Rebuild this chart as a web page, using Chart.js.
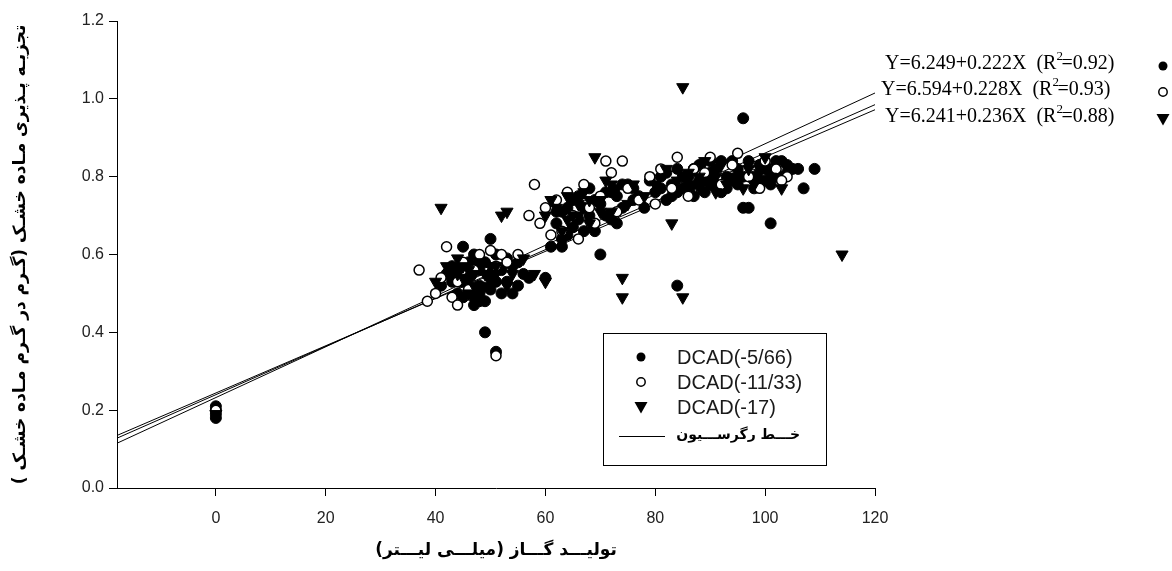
<!DOCTYPE html>
<html>
<head>
<meta charset="utf-8">
<script src="https://cdn.jsdelivr.net/npm/chart.js@4.4.0/dist/chart.umd.min.js"></script>
<style>
  html, body { margin: 0; padding: 0; background: #fff; }
  #wrap { width: 1172px; height: 571px; }
</style>
</head>
<body>
<div id="wrap"><canvas id="c" width="1172" height="571"></canvas></div>
<script>
/* ── data ─────────────────────────────── */
const xTicks = [0, 20, 40, 60, 80, 100, 120];
const yTicks = [0, 0.2, 0.4, 0.6, 0.8, 1.0, 1.2];

const seriesNames = ['DCAD(-5/66)', 'DCAD(-11/33)', 'DCAD(-17)'];
const equations = [
  ['Y=6.249+0.222X  (R', '=0.92)'],
  ['Y=6.594+0.228X  (R', '=0.93)'],
  ['Y=6.241+0.236X  (R', '=0.88)']
];

// DCAD(-5/66) – filled circles
const filledPts = [
  [0,0.18],[0,0.19],[0,0.2],[0,0.21],
  [41,0.52],[42,0.55],[43,0.57],[44,0.5],[45,0.53],[46,0.58],[47,0.49],[48,0.52],[48,0.56],
  [49,0.48],[50,0.55],[51,0.6],[52,0.5],[53,0.53],[54,0.57],[55,0.52],[56,0.55],[57,0.54],
  [60,0.54],[49,0.40],[51,0.35],[45,0.62],[47,0.6],[50,0.64],
  [43,0.53],[44,0.56],[46,0.54],[47,0.57],[48,0.5],[49,0.58],[50,0.51],[52,0.56],[53,0.59],
  [45,0.49],[47,0.47],[48,0.48],[51,0.53],[55,0.58],[54,0.5],
  [61,0.62],[62,0.68],[63,0.71],[64,0.65],[65,0.74],[66,0.69],[67,0.72],[68,0.77],[69,0.66],
  [70,0.73],[71,0.7],[72,0.76],[73,0.68],[74,0.72],[75,0.78],[76,0.74],[78,0.72],[79,0.79],
  [62,0.71],[63,0.64],[64,0.72],[65,0.67],[66,0.75],[67,0.66],[68,0.7],[69,0.74],[71,0.76],
  [72,0.69],[73,0.75],[74,0.78],[76,0.77],[77,0.75],[63,0.62],
  [80,0.76],[81,0.8],[82,0.74],[83,0.78],[84,0.82],[85,0.77],[86,0.8],[87,0.75],[88,0.83],
  [89,0.79],[90,0.78],[91,0.82],[92,0.76],[93,0.8],[94,0.84],[95,0.78],[96,0.72],[97,0.72],
  [98,0.8],[99,0.83],[100,0.79],[101,0.82],[102,0.8],[103,0.84],[104,0.81],[105,0.82],
  [81,0.77],[82,0.81],[83,0.75],[85,0.8],[86,0.77],[87,0.82],[88,0.79],[89,0.76],[90,0.81],
  [91,0.78],[92,0.84],[93,0.77],[94,0.79],[95,0.82],[96,0.8],[97,0.84],[98,0.77],[99,0.79],
  [100,0.82],[101,0.78],[102,0.84],[103,0.8],[104,0.83],[106,0.82],[84,0.76],[90,0.84],
  [96,0.95],[101,0.68],[107,0.77],[109,0.82],[84,0.52],[70,0.6]
];
// DCAD(-11/33) – open circles
const openPts = [
  [0,0.2],
  [37,0.56],[38.5,0.48],[42,0.62],[40,0.5],[41,0.54],[43,0.49],[44,0.53],[45,0.58],[46,0.51],
  [47,0.56],[48,0.6],[50,0.61],[51,0.57],[52,0.6],[53,0.58],[55,0.6],[51,0.34],[44,0.47],
  [57,0.7],[58,0.78],[59,0.68],[60,0.72],[61,0.65],[62,0.74],[63,0.66],[64,0.76],[65,0.7],
  [66,0.64],[67,0.78],[68,0.72],[69,0.68],[70,0.75],[71,0.84],[74,0.84],[72,0.81],[73,0.71],
  [75,0.77],[77,0.74],[79,0.8],
  [80,0.73],[81,0.82],[83,0.77],[84,0.85],[86,0.75],[87,0.82],[89,0.81],[90,0.85],[92,0.78],
  [94,0.83],[95,0.86],[97,0.8],[99,0.77],[100,0.84],[102,0.82],[104,0.8],[103,0.79]
];
// DCAD(-17) – filled down triangles
const triPts = [
  [0,0.19],
  [41,0.72],[40,0.53],[42,0.57],[43,0.55],[44,0.59],[45,0.54],[46,0.56],[47,0.52],[48,0.58],
  [49,0.55],[50,0.53],[51,0.57],[52,0.7],[53,0.71],[53,0.52],[54,0.55],[56,0.59],[58,0.55],
  [60,0.53],[46,0.5],[44,0.55],[45,0.57],[47,0.55],[49,0.52],[50,0.57],[51,0.55],
  [60,0.7],[62,0.72],[63,0.66],[64,0.75],[65,0.7],[66,0.73],[67,0.76],[68,0.68],[69,0.85],
  [70,0.74],[71,0.79],[72,0.71],[73,0.77],[74,0.54],[74,0.49],[75,0.73],[76,0.78],[78,0.75],
  [61,0.74],[64,0.69],[66,0.7],[68,0.74],[70,0.71],[72,0.78],
  [80,0.78],[82,0.82],[83,0.68],[84,0.79],[85,1.03],[85,0.49],[86,0.81],[87,0.78],[88,0.77],
  [89,0.84],[90,0.79],[91,0.76],[92,0.83],[93,0.78],[94,0.8],[96,0.77],[97,0.82],[98,0.78],
  [100,0.85],[101,0.8],[103,0.77],[114,0.6],[88,0.8],[91,0.8],[95,0.8],[99,0.81],[86,0.78]
];

// regression lines, end values at x = -18 and x = 120
const regX  = [-18, 120];
const regY1 = [0.128, 0.985];
const regY2 = [0.135, 0.972];
const regY3 = [0.115, 1.015];

const toXY = arr => arr.map(p => ({ x: p[0], y: p[1] }));
const lineXY = ys => regX.map((x, i) => ({ x, y: ys[i] }));

/* ── marker drawing helper ─────────────── */
function drawMarker(ctx, kind, x, y) {
  ctx.save();
  ctx.lineWidth = 1.5;
  ctx.strokeStyle = '#000';
  ctx.fillStyle = '#000';
  if (kind === 0) {
    ctx.beginPath(); ctx.arc(x, y, 4.5, 0, Math.PI * 2); ctx.fill();
  } else if (kind === 1) {
    ctx.fillStyle = '#fff';
    ctx.beginPath(); ctx.arc(x, y, 4.2, 0, Math.PI * 2); ctx.fill(); ctx.stroke();
  } else {
    ctx.beginPath();
    ctx.moveTo(x - 6.5, y - 5); ctx.lineTo(x + 6.5, y - 5); ctx.lineTo(x, y + 6.5);
    ctx.closePath(); ctx.fill();
  }
  ctx.restore();
}

/* ── legend box + equations ────────────── */
const annotations = {
  id: 'annotations',
  afterDraw(chart) {
    const ctx = chart.ctx;
    ctx.save();
    // x axis line runs a little past the y axis, as in the source figure
    const xa = chart.scales.x;
    ctx.beginPath();
    ctx.moveTo(109, xa.top + 0.5); ctx.lineTo(chart.chartArea.left, xa.top + 0.5);
    ctx.strokeStyle = '#000'; ctx.lineWidth = 1; ctx.stroke();

    // legend box
    ctx.strokeRect(603.5, 333.5, 223, 132);
    const rows = [357, 382, 407];
    ctx.font = '20px "Liberation Sans", Arial, sans-serif';
    ctx.textBaseline = 'middle';
    ctx.textAlign = 'left';
    rows.forEach((ry, i) => {
      drawMarker(ctx, i, 641, ry);
      ctx.fillStyle = '#1a1a1a';
      ctx.fillText(seriesNames[i], 677, ry + 1);
    });
    ctx.beginPath();
    ctx.moveTo(619, 436.5); ctx.lineTo(665, 436.5);
    ctx.strokeStyle = '#000'; ctx.lineWidth = 1; ctx.stroke();
    ctx.font = 'bold 14px "DejaVu Sans", sans-serif';
    ctx.textAlign = 'right';
    ctx.fillStyle = '#000';
    ctx.fillText('خـــط رگرســـیون', 800, 435);

    // regression equations at the right
    const eqRows = [64, 90, 117];
    const eqX = [885, 881, 885];
    ctx.textAlign = 'left';
    eqRows.forEach((ry, i) => {
      ctx.font = '20px "Liberation Serif", "Times New Roman", serif';
      ctx.fillStyle = '#000';
      const a = equations[i][0];
      ctx.fillText(a, eqX[i], ry);
      const w = ctx.measureText(a).width;
      ctx.font = '13px "Liberation Serif", serif';
      ctx.fillText('2', eqX[i] + w, ry - 7);
      ctx.font = '20px "Liberation Serif", "Times New Roman", serif';
      ctx.fillText(equations[i][1], eqX[i] + w + 5, ry);
      drawMarker(ctx, i, 1163, ry + 2);
    });
    ctx.restore();
  }
};

const pointStyleBase = { showLine: false, borderColor: '#000' };

new Chart(document.getElementById('c'), {
  type: 'scatter',
  data: {
    datasets: [
      { label: 'reg1', type: 'line', data: lineXY(regY1), borderColor: '#000', borderWidth: 1,
        pointRadius: 0, fill: false, order: 5 },
      { label: 'reg2', type: 'line', data: lineXY(regY2), borderColor: '#000', borderWidth: 1,
        pointRadius: 0, fill: false, order: 5 },
      { label: 'reg3', type: 'line', data: lineXY(regY3), borderColor: '#000', borderWidth: 1,
        pointRadius: 0, fill: false, order: 5 },
      Object.assign({ label: seriesNames[0], data: toXY(filledPts), pointStyle: 'circle',
        pointRadius: 5.5, backgroundColor: '#000', borderWidth: 1, order: 3 }, pointStyleBase),
      Object.assign({ label: seriesNames[1], data: toXY(openPts), pointStyle: 'circle',
        pointRadius: 5, backgroundColor: '#fff', borderWidth: 1.5, order: 2 }, pointStyleBase),
      Object.assign({ label: seriesNames[2], data: toXY(triPts), pointStyle: 'triangle',
        rotation: 180, pointRadius: 7, backgroundColor: '#000', borderWidth: 1, order: 1 }, pointStyleBase)
    ]
  },
  options: {
    responsive: false,
    animation: false,
    events: [],
    layout: { padding: { left: 0, right: 297, top: 21, bottom: 0 } },
    plugins: { legend: { display: false }, tooltip: { enabled: false } },
    scales: {
      x: {
        type: 'linear', min: -18, max: 120,
        afterBuildTicks: s => { s.ticks = xTicks.map(v => ({ value: v })); },
        afterFit: s => { s.height = 83; },
        grid: { drawOnChartArea: false, drawTicks: true, tickLength: 8, color: '#000' },
        border: { display: true, color: '#000', width: 1 },
        ticks: { color: '#222', padding: 13, font: { family: '"Liberation Sans", Arial', size: 16 } },
        title: { display: true, text: 'تولیـــد گـــاز (میلـــی لیـــتر)', color: '#000',
          font: { family: '"DejaVu Sans"', size: 17, weight: 'bold' }, padding: { top: 0, bottom: 10 } }
      },
      y: {
        type: 'linear', min: 0, max: 1.2,
        afterBuildTicks: s => { s.ticks = yTicks.map(v => ({ value: v })); },
        afterFit: s => { s.width = 117; },
        grid: { drawOnChartArea: false, drawTicks: true, tickLength: 8, color: '#000' },
        border: { display: true, color: '#000', width: 1 },
        ticks: { color: '#222', padding: 5, font: { family: '"Liberation Sans", Arial', size: 16 },
          callback: v => Number(v).toFixed(1) },
        title: { display: true, text: 'تجزیـه پـذیری مـاده خشـک (گـرم در گـرم مـاده خشـک )', color: '#000',
          font: { family: '"DejaVu Sans"', size: 17, weight: 'bold' }, padding: { top: 10, bottom: 0 } }
      }
    }
  },
  plugins: [annotations]
});
</script>
</body>
</html>
